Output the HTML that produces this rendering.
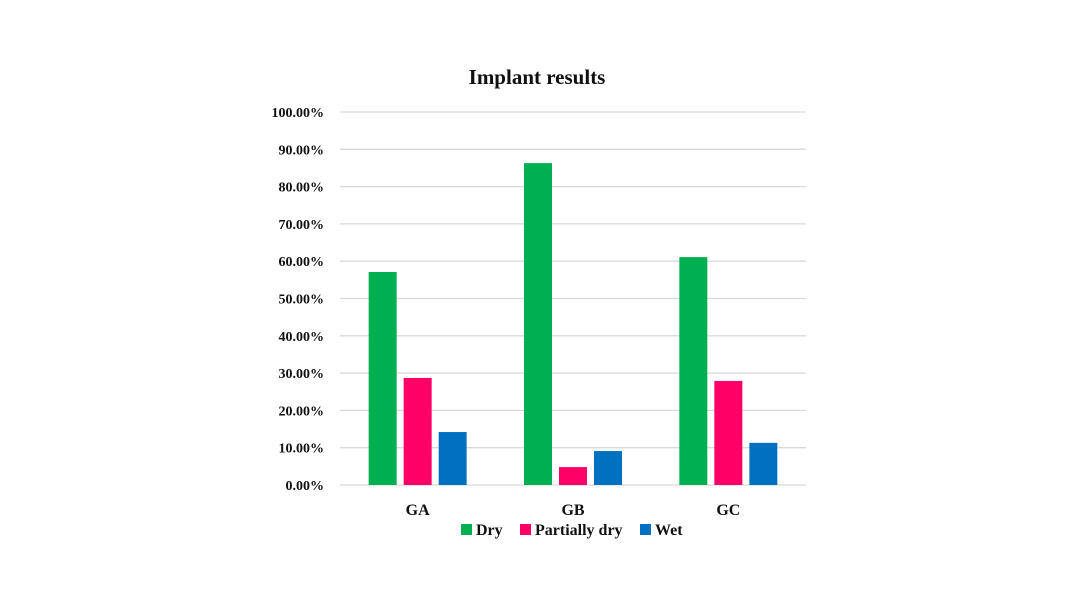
<!DOCTYPE html>
<html><head><meta charset="utf-8"><style>
body{margin:0;background:#fff;}
svg text{font-family:"Liberation Serif",serif;font-weight:bold;fill:#111;}
</style></head><body>
<svg id="chart" width="1080" height="607" xmlns="http://www.w3.org/2000/svg">
<text x="537" y="84" text-anchor="middle" font-size="21">Implant results</text>
<g id="grid"></g>
<g id="yticks"></g>
<g id="bars"></g>
<g id="xticks"></g>
<g id="legend"></g>
</svg>
<script>
const categories=["GA","GB","GC"];
const seriesNames=["Dry","Partially dry","Wet"];
const dry=[57.1,86.3,61.1];
const partiallyDry=[28.7,4.8,27.9];
const wet=[14.2,9.1,11.3];
const yTicks=[0,10,20,30,40,50,60,70,80,90,100];
const colors=["#00b050","#ff0066","#0070c0"];
const series=[dry,partiallyDry,wet];
const NS="http://www.w3.org/2000/svg";
const x0=340,x1=806,yBase=485,yTop=112;
const y=v=>yBase-(v/100)*(yBase-yTop);
const catW=(x1-x0)/categories.length;
const cx=i=>x0+catW*(i+0.5);
const bw=28,gap=7;
function mk(t,a,p){const e=document.createElementNS(NS,t);for(const k in a)e.setAttribute(k,a[k]);p.appendChild(e);return e;}
const grid=document.getElementById('grid'),yt=document.getElementById('yticks');
yTicks.forEach(v=>{
 const l=mk('line',{x1:x0,x2:x1,y1:y(v),y2:y(v),stroke:'#d9d9d9','stroke-width':1.3},grid);
 
 
 const t=mk('text',{x:324,y:y(v)+5,'text-anchor':'end','font-size':14},yt);
 t.textContent=v.toFixed(2)+'%';
 
 
});
const bars=document.getElementById('bars'),xt=document.getElementById('xticks');
categories.forEach((c,i)=>{
 series.forEach((s,j)=>{
  const bx=cx(i)+(j-1)*(bw+gap)-bw/2;
  const r=mk('rect',{x:bx,y:y(s[i]),width:bw,height:yBase-y(s[i]),fill:colors[j]},bars);
  
  
 });
 const t=mk('text',{x:cx(i),y:515,'text-anchor':'middle','font-size':16},xt);
 t.textContent=c;
 
 
});
const lg=document.getElementById('legend');
const lx=[461,520,640];
seriesNames.forEach((n,j)=>{
 const r=mk('rect',{x:lx[j],y:524,width:11,height:11,fill:colors[j]},lg);
 
 
 const t=mk('text',{x:lx[j]+15,y:535,'font-size':16},lg);
 t.textContent=n;
 
 
});
</script>
</body></html>
